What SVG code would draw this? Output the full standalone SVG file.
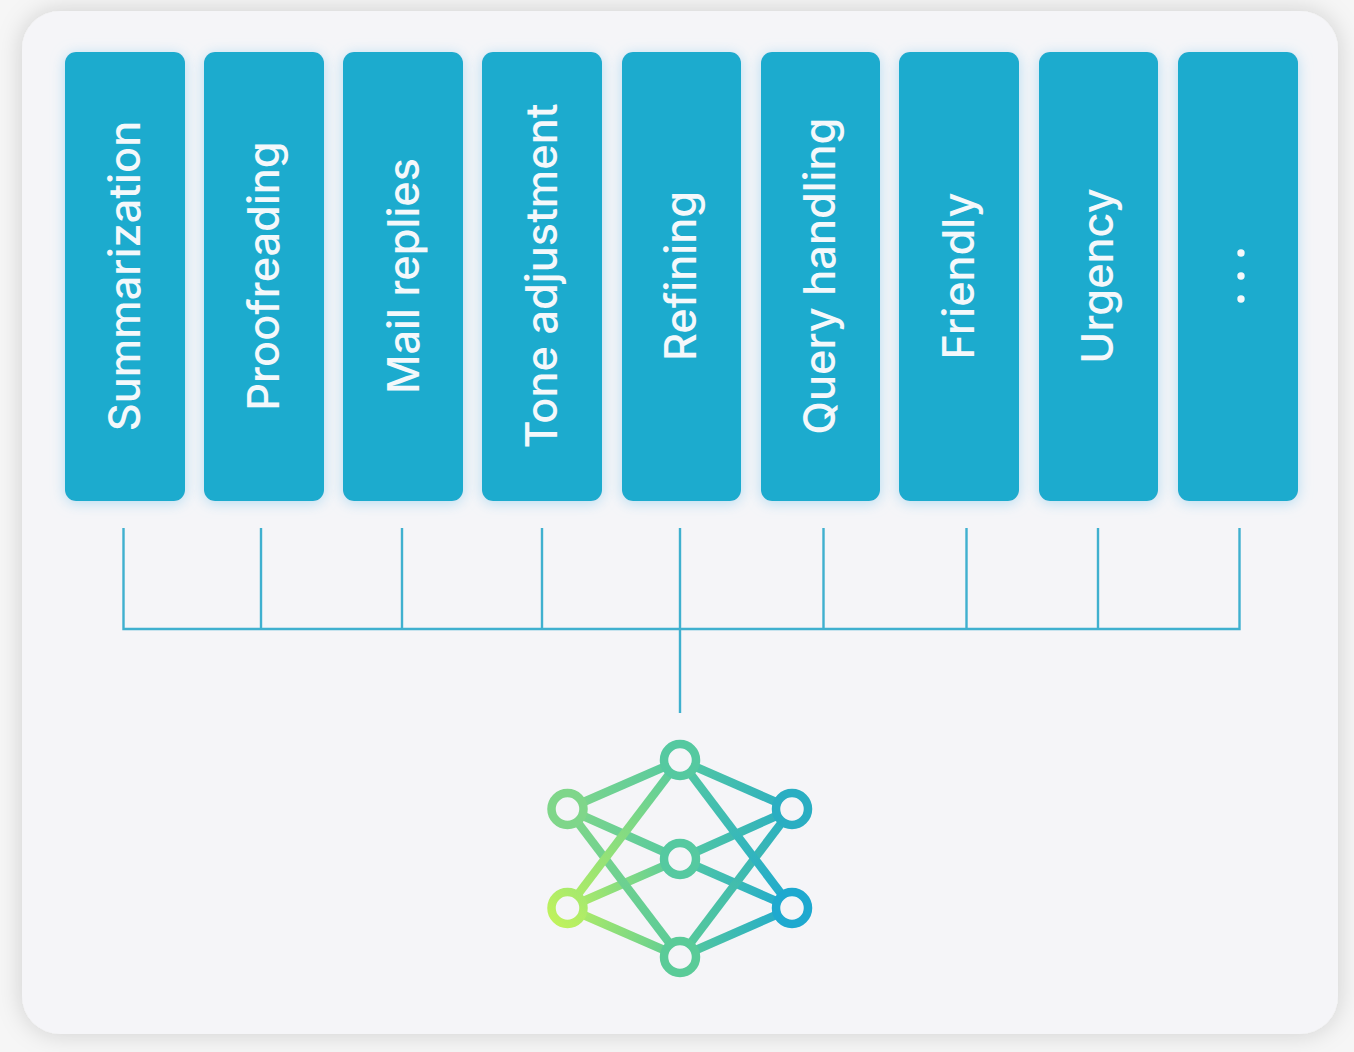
<svg xmlns="http://www.w3.org/2000/svg" width="1354" height="1052" viewBox="0 0 1354 1052">
<style>
.box{fill:#1cabce;filter:url(#glow)}
.lbl{font-family:Inter,"Liberation Sans",sans-serif;font-size:43.300px;font-weight:500;fill:#f4f8fb;text-anchor:middle}
.wire{fill:none;stroke:#3fb0cf;stroke-width:2.4}
.n{fill:#f5f5f8;stroke-width:8.500}
.e{fill:none;stroke-width:8.500}
</style>
<defs>
<filter id="glow" x="-30%" y="-10%" width="160%" height="120%"><feDropShadow dx="0" dy="2" stdDeviation="7" flood-color="#a9d8f0" flood-opacity=".85"/></filter>
<filter id="pan" x="-5%" y="-5%" width="110%" height="110%"><feDropShadow dx="0" dy="0" stdDeviation="12" flood-color="#000" flood-opacity=".17"/></filter>
<linearGradient id="a1" gradientUnits="userSpaceOnUse" x1="567" y1="809" x2="680" y2="760"><stop offset="0" stop-color="#7fd68a"/><stop offset="1" stop-color="#55c9a0"/></linearGradient>
<linearGradient id="a2" gradientUnits="userSpaceOnUse" x1="680" y1="760" x2="792" y2="809"><stop offset="0" stop-color="#55c9a0"/><stop offset="1" stop-color="#2aaec2"/></linearGradient>
<linearGradient id="a3" gradientUnits="userSpaceOnUse" x1="567" y1="908" x2="680" y2="859"><stop offset="0" stop-color="#b5ee62"/><stop offset="1" stop-color="#55c9a0"/></linearGradient>
<linearGradient id="a4" gradientUnits="userSpaceOnUse" x1="680" y1="859" x2="792" y2="809"><stop offset="0" stop-color="#55c9a0"/><stop offset="1" stop-color="#2aaec2"/></linearGradient>
<linearGradient id="a5" gradientUnits="userSpaceOnUse" x1="567" y1="809" x2="680" y2="859"><stop offset="0" stop-color="#7fd68a"/><stop offset="1" stop-color="#55c9a0"/></linearGradient>
<linearGradient id="a6" gradientUnits="userSpaceOnUse" x1="680" y1="859" x2="792" y2="908"><stop offset="0" stop-color="#55c9a0"/><stop offset="1" stop-color="#1ea9cf"/></linearGradient>
<linearGradient id="a7" gradientUnits="userSpaceOnUse" x1="567" y1="908" x2="680" y2="957"><stop offset="0" stop-color="#b5ee62"/><stop offset="1" stop-color="#5acb98"/></linearGradient>
<linearGradient id="a8" gradientUnits="userSpaceOnUse" x1="680" y1="957" x2="792" y2="908"><stop offset="0" stop-color="#5acb98"/><stop offset="1" stop-color="#1ea9cf"/></linearGradient>
<linearGradient id="a9" gradientUnits="userSpaceOnUse" x1="567" y1="809" x2="680" y2="957"><stop offset="0" stop-color="#7fd68a"/><stop offset="1" stop-color="#5acb98"/></linearGradient>
<linearGradient id="a10" gradientUnits="userSpaceOnUse" x1="680" y1="957" x2="792" y2="809"><stop offset="0" stop-color="#5acb98"/><stop offset="1" stop-color="#2aaec2"/></linearGradient>
<linearGradient id="a11" gradientUnits="userSpaceOnUse" x1="567" y1="908" x2="680" y2="760"><stop offset="0" stop-color="#b5ee62"/><stop offset="1" stop-color="#55c9a0"/></linearGradient>
<linearGradient id="a12" gradientUnits="userSpaceOnUse" x1="680" y1="760" x2="792" y2="908"><stop offset="0" stop-color="#55c9a0"/><stop offset="1" stop-color="#1ea9cf"/></linearGradient>
<linearGradient id="r2" gradientUnits="userSpaceOnUse" x1="550" y1="925" x2="585" y2="890"><stop offset="0" stop-color="#c2f35a"/><stop offset="1" stop-color="#a3e870"/></linearGradient>
</defs>
<rect width="1354" height="1052" fill="#f6f6f6"/>
<rect id="panel" x="22" y="11" width="1316" height="1023" rx="38" fill="#f5f5f8" filter="url(#pan)"/>
<g id="connectors">
<path class="wire" d="M123.500 528V629H1239.500V528M261 528V629M402 528V629M542 528V629M680 528V713M823.500 528V629M966.500 528V629M1098 528V629"/>
</g>
<g id="node-summarization"><rect class="box" x="65" y="52" width="120" height="449" rx="11"/><text class="lbl" transform="translate(140 276) rotate(-90)">Summarization</text></g>
<g id="node-proofreading"><rect class="box" x="204" y="52" width="120" height="449" rx="11"/><text class="lbl" transform="translate(279 276) rotate(-90)">Proofreading</text></g>
<g id="node-mail"><rect class="box" x="343" y="52" width="120" height="449" rx="11"/><text class="lbl" transform="translate(418.500 276) rotate(-90)">Mail replies</text></g>
<g id="node-tone"><rect class="box" x="482" y="52" width="120" height="449" rx="11"/><text class="lbl" transform="translate(557 276) rotate(-90)">Tone adjustment</text></g>
<g id="node-refining"><rect class="box" x="622" y="52" width="119" height="449" rx="11"/><text class="lbl" transform="translate(696 276) rotate(-90)">Refining</text></g>
<g id="node-query"><rect class="box" x="761" y="52" width="119" height="449" rx="11"/><text class="lbl" transform="translate(835 276) rotate(-90)">Query handling</text></g>
<g id="node-friendly"><rect class="box" x="899" y="52" width="120" height="449" rx="11"/><text class="lbl" transform="translate(974 276) rotate(-90)">Friendly</text></g>
<g id="node-urgency"><rect class="box" x="1039" y="52" width="119" height="449" rx="11"/><text class="lbl" transform="translate(1113 276) rotate(-90)">Urgency</text></g>
<g id="node-more"><rect class="box" x="1178" y="52" width="120" height="449" rx="11"/><circle cx="1241" cy="253" r="3.700" fill="#f4f8fb"/><circle cx="1241" cy="276" r="3.700" fill="#f4f8fb"/><circle cx="1241" cy="299" r="3.700" fill="#f4f8fb"/></g>
<g id="node-network">
<path class="e" stroke="url(#a1)" d="M567.500 809L680 760"/>
<path class="e" stroke="url(#a2)" d="M680 760L792 809"/>
<path class="e" stroke="url(#a3)" d="M567.500 908L680 859"/>
<path class="e" stroke="url(#a4)" d="M680 859L792 809"/>
<path class="e" stroke="url(#a5)" d="M567.500 809L680 859"/>
<path class="e" stroke="url(#a6)" d="M680 859L792 908"/>
<path class="e" stroke="url(#a7)" d="M567.500 908L680 957"/>
<path class="e" stroke="url(#a8)" d="M680 957L792 908"/>
<path class="e" stroke="url(#a9)" d="M567.500 809L680 957"/>
<path class="e" stroke="url(#a10)" d="M680 957L792 809"/>
<path class="e" stroke="url(#a11)" d="M567.500 908L680 760"/>
<path class="e" stroke="url(#a12)" d="M680 760L792 908"/>
<circle class="n" stroke="#55c9a0" cx="680" cy="760" r="16"/><circle class="n" stroke="#7fd68a" cx="567.500" cy="809" r="16"/><circle class="n" stroke="url(#r2)" cx="567.500" cy="908" r="16"/><circle class="n" stroke="#55c9a0" cx="680" cy="859" r="16"/><circle class="n" stroke="#5acb98" cx="680" cy="957" r="16"/><circle class="n" stroke="#2aaec2" cx="792" cy="809" r="16"/><circle class="n" stroke="#1ea9cf" cx="792" cy="908" r="16"/>
</g>
</svg>
